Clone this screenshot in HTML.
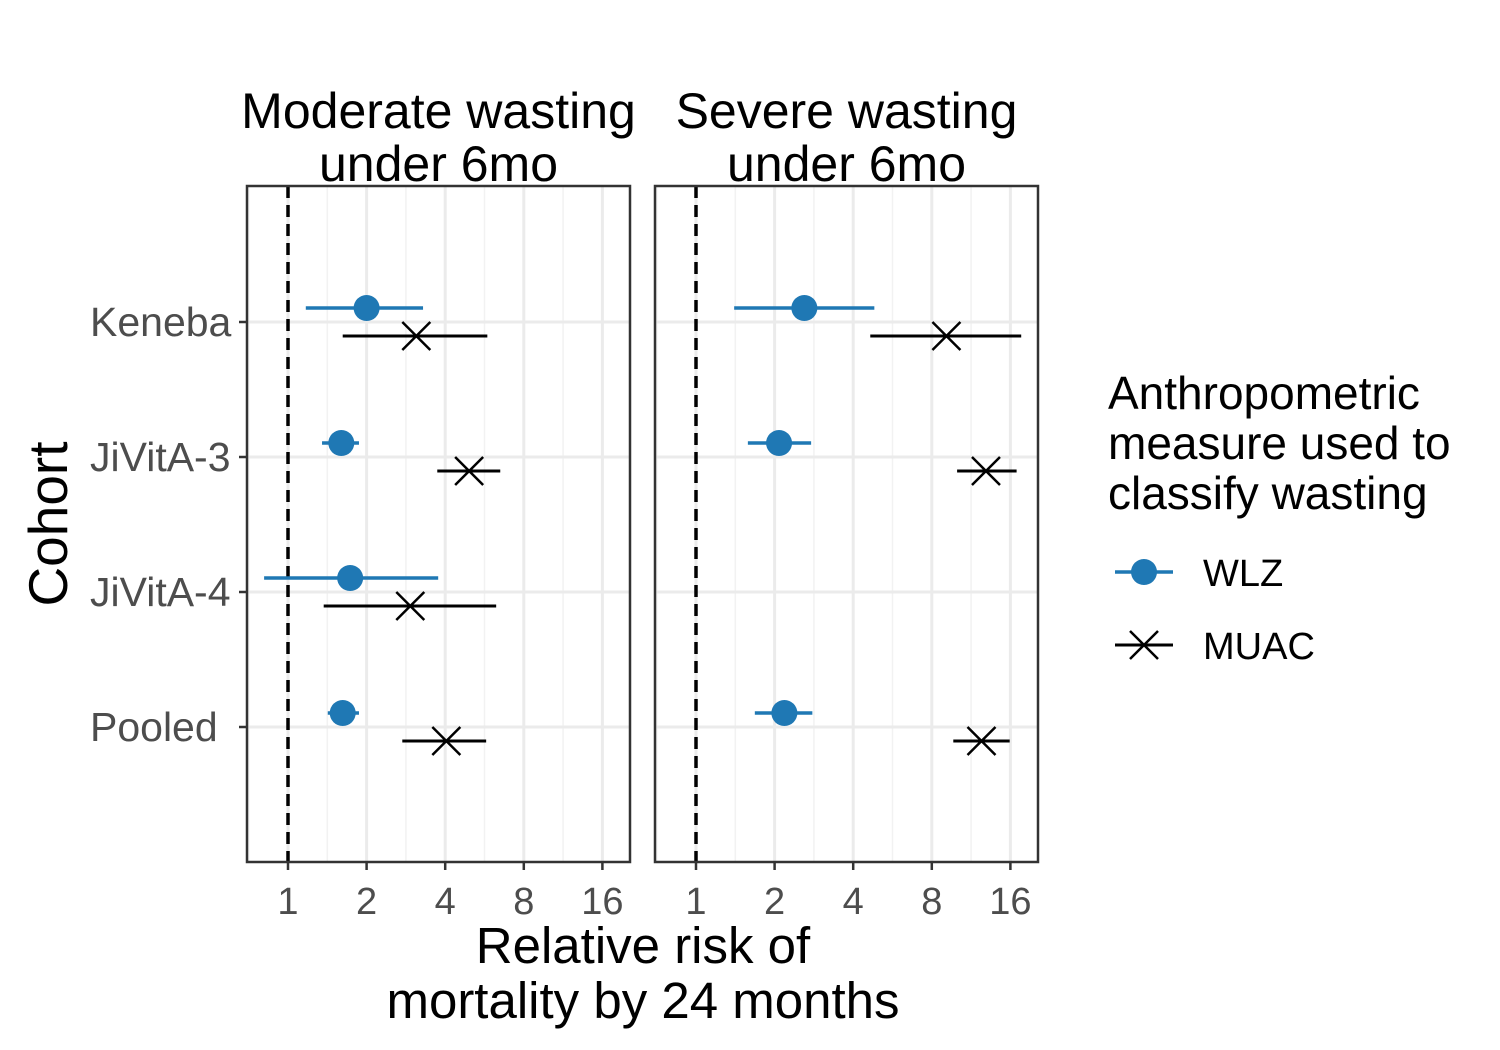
<!DOCTYPE html>
<html><head><meta charset="utf-8"><style>
html,body{margin:0;padding:0;background:#fff}
svg{display:block;font-family:"Liberation Sans",Arial,sans-serif}
</style></head><body>
<svg id="chart" width="1500" height="1050" viewBox="0 0 1500 1050"></svg>
<script>
const cohorts = ["Keneba","JiVitA-3","JiVitA-4","Pooled"];
const panels = ["Moderate wasting|under 6mo","Severe wasting|under 6mo"];
const xTicks = [1,2,4,8,16];
// [panel][cohort] = [est, lo, hi] or null
const wlzVals = [
  [[2.0,1.17,3.29],[1.6,1.35,1.87],[1.73,0.81,3.76],[1.62,1.42,1.87]],
  [[2.6,1.4,4.82],[2.08,1.58,2.76],null,[2.18,1.68,2.79]]
];
const muacVals = [
  [[3.1,1.62,5.8],[4.94,3.73,6.5],[2.94,1.37,6.27],[4.04,2.74,5.74]],
  [[9.1,4.65,17.6],[12.9,10.0,16.9],null,[12.4,9.67,15.9]]
];

const NS="http://www.w3.org/2000/svg";
const svg=document.getElementById('chart');
function el(tag,attrs,parent){const e=document.createElementNS(NS,tag);for(const k in attrs)e.setAttribute(k,attrs[k]);(parent||svg).appendChild(e);return e;}
const panelX=[247,655], panelW=383, plotTop=186, plotBot=862;
const one=41, perDbl=78.6;
function xs(p,v){return panelX[p]+one+Math.log2(v)*perDbl;}
const rowY=[322,457,592,727];
function ys(i){return rowY[0]+i*(rowY[1]-rowY[0]);}

for(let p=0;p<2;p++){
  const g=el('g',{});
  
  
  el('rect',{x:panelX[p],y:plotTop,width:panelW,height:plotBot-plotTop,fill:'#fff'},g);
  for(let k=-0.5;k<=4.5;k+=1){const x=xs(p,Math.pow(2,k));if(x>panelX[p]&&x<panelX[p]+panelW)el('line',{x1:x,x2:x,y1:plotTop,y2:plotBot,stroke:'#f2f2f2','stroke-width':1.5},g);}
  xTicks.forEach(t=>{const x=xs(p,t);el('line',{x1:x,x2:x,y1:plotTop,y2:plotBot,stroke:'#ebebeb','stroke-width':3},g);});
  cohorts.forEach((c,i)=>{el('line',{x1:panelX[p],x2:panelX[p]+panelW,y1:ys(i),y2:ys(i),stroke:'#ebebeb','stroke-width':3},g);});
  const rl=el('line',{x1:xs(p,1),x2:xs(p,1),y1:plotTop,y2:plotBot,stroke:'#000','stroke-width':3.5,'stroke-dasharray':'12,7'},g);
  
  cohorts.forEach((c,i)=>{
    const w=wlzVals[p][i];
    if(w){const y=ys(i)-14;
      const l=el('line',{x1:xs(p,w[1]),x2:xs(p,w[2]),y1:y,y2:y,stroke:'#1f78b4','stroke-width':3.5},g);
      
      const pt=el('circle',{cx:xs(p,w[0]),cy:y,r:13,fill:'#1f78b4'},g);
      
      }
    const m=muacVals[p][i];
    if(m){const y=ys(i)+14,x=xs(p,m[0]),s=14;
      const l=el('line',{x1:xs(p,m[1]),x2:xs(p,m[2]),y1:y,y2:y,stroke:'#000','stroke-width':3},g);
      
      const pt=el('path',{d:`M${x-s},${y-s}L${x+s},${y+s}M${x-s},${y+s}L${x+s},${y-s}`,stroke:'#000','stroke-width':2.5,fill:'none'},g);
      
      }
  });
  el('rect',{x:panelX[p],y:plotTop,width:panelW,height:plotBot-plotTop,fill:'none',stroke:'#333','stroke-width':2.5},g);
  xTicks.forEach(t=>{const x=xs(p,t);el('line',{x1:x,x2:x,y1:plotBot,y2:plotBot+8,stroke:'#333','stroke-width':2.5},g);
    const tx=el('text',{x:x,y:914,'text-anchor':'middle','font-size':38,fill:'#4d4d4d'},g);tx.textContent=t;
    });
  const parts=panels[p].split('|');
  parts.forEach((s,j)=>{const tt=el('text',{x:panelX[p]+panelW/2,y:128+j*53,'text-anchor':'middle','font-size':50,fill:'#000'});tt.textContent=s;
    });
}
cohorts.forEach((c,i)=>{el('line',{x1:239,x2:247,y1:ys(i),y2:ys(i),stroke:'#333','stroke-width':2.5});
  const t=el('text',{x:90,y:ys(i)+14,'font-size':41,fill:'#4d4d4d'});t.textContent=c;
  });
const yt=el('text',{x:0,y:0,'font-size':55,fill:'#000','text-anchor':'middle',transform:'translate(67,524) rotate(-90)'});yt.textContent='Cohort';

['Relative risk of','mortality by 24 months'].forEach((s,j)=>{const t=el('text',{x:643,y:963+j*55,'text-anchor':'middle','font-size':51,fill:'#000'});t.textContent=s;
  });
const lg=el('g',{});
['Anthropometric','measure used to','classify wasting'].forEach((s,j)=>{const t=el('text',{x:1108,y:409+j*50,'font-size':46,fill:'#000'},lg);t.textContent=s;});
const e1=el('g',{},lg);
el('line',{x1:1115,x2:1173,y1:572,y2:572,stroke:'#1f78b4','stroke-width':3.5},e1);
el('circle',{cx:1144,cy:572,r:13,fill:'#1f78b4'},e1);
const t1=el('text',{x:1203,y:586,'font-size':38,fill:'#000'},e1);t1.textContent='WLZ';
const e2=el('g',{},lg);
el('line',{x1:1115,x2:1173,y1:645,y2:645,stroke:'#000','stroke-width':3},e2);
el('path',{d:'M1130,631L1158,659M1130,659L1158,631',stroke:'#000','stroke-width':2.5,fill:'none'},e2);
const t2=el('text',{x:1203,y:659,'font-size':38,fill:'#000'},e2);t2.textContent='MUAC';
</script>
</body></html>
